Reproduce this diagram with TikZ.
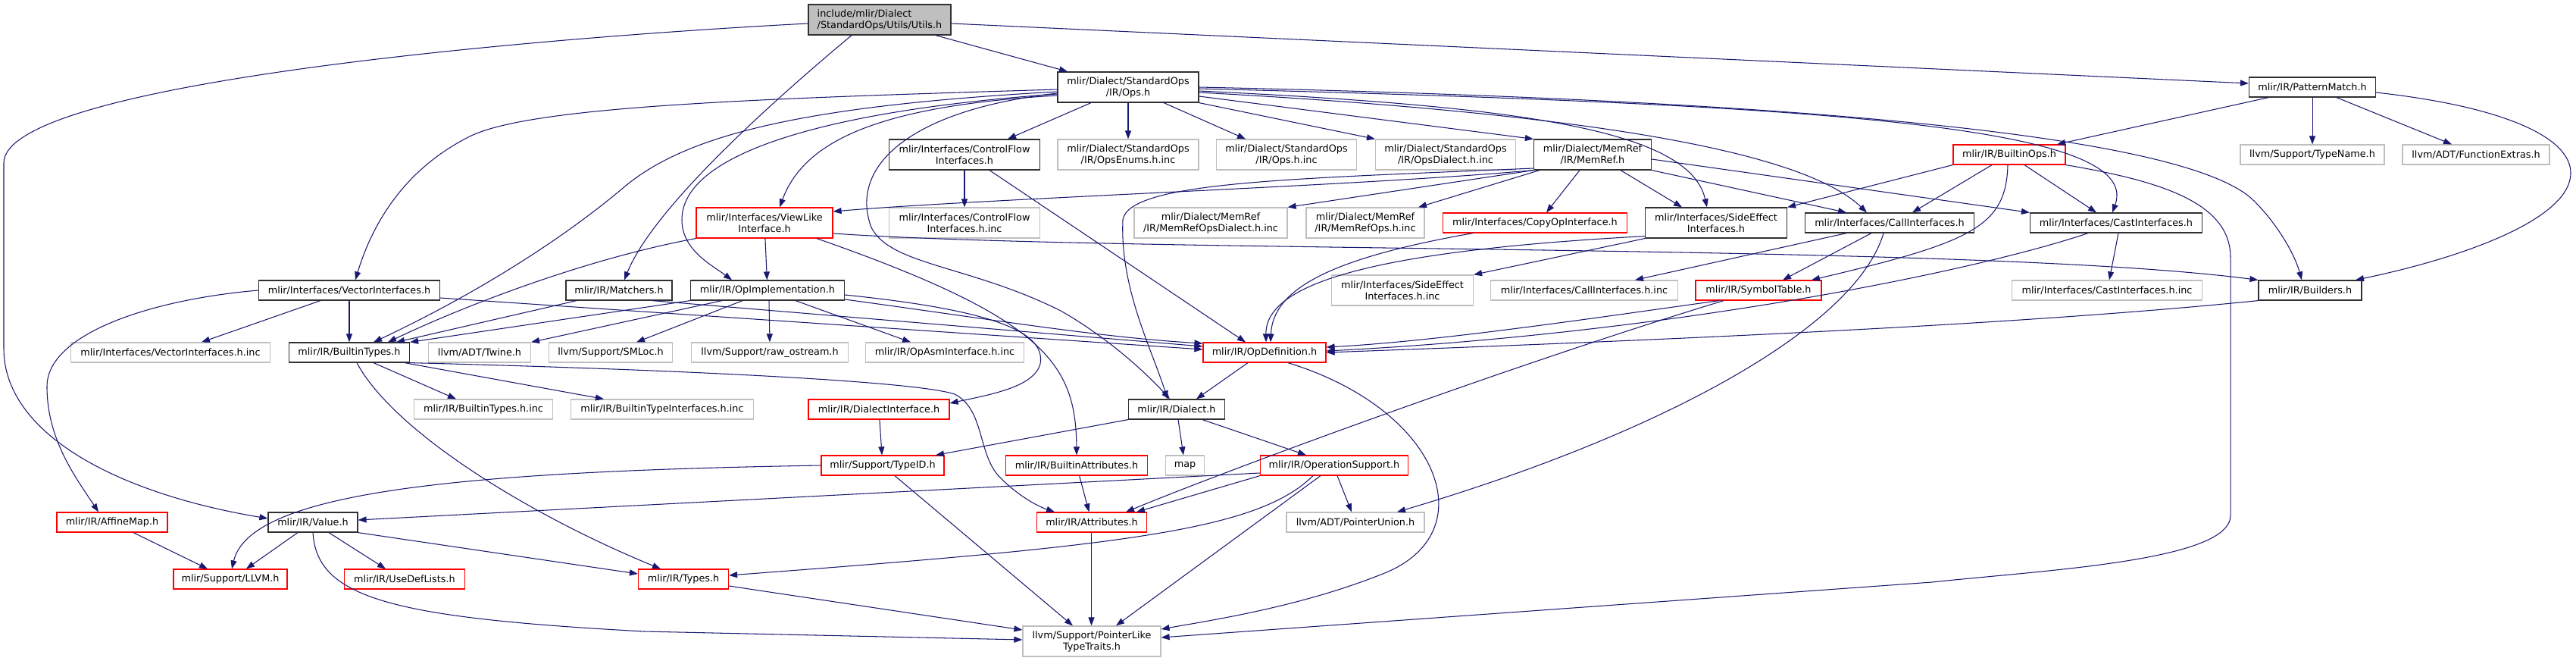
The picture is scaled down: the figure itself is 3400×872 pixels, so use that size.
\documentclass[tikz,border=0pt]{standalone}
\usepackage{fontspec}
\newfontfamily\gfont{DejaVu Sans}
\usetikzlibrary{arrows.meta}
\definecolor{edgeblue}{HTML}{191970}
\definecolor{bordergray}{HTML}{BFBFBF}
\definecolor{rootgray}{HTML}{BFBFBF}
\definecolor{borderred}{HTML}{FF0000}
\definecolor{borderblk}{HTML}{303030}
\begin{document}
\begin{tikzpicture}[x=1pt,y=-1pt,
  box/.style={rectangle, draw, fill=white, inner sep=0pt, align=center, line width=1.2pt,
     font={\gfont\fontsize{12.8pt}{15pt}\selectfont}, text=black},
  blk/.style={box, draw=borderblk},
  gry/.style={box, draw=bordergray},
  redb/.style={box, draw=borderred},
  root/.style={box, draw=borderblk, fill=rootgray},
  h1/.style={minimum height=26pt},
  h2/.style={minimum height=40pt},
  edge/.style={draw=edgeblue, line width=1.05pt, -{Triangle[length=11pt,width=8pt]}}]
\fill[white] (0,0) rectangle (3400,872);
\useasboundingbox (0,0) rectangle (3400,872);
% ---------- nodes ----------
\node[root,h2,minimum width=188pt,align=left] (utils) at (1161,26) {include/mlir/Dialect\\/StandardOps/Utils/Utils.h};
\node[blk,h2,minimum width=186pt] (ops) at (1489,115) {mlir/Dialect/StandardOps\\/IR/Ops.h};
\node[blk,h1,minimum width=167pt] (pattern) at (3052,115) {mlir/IR/PatternMatch.h};
\node[blk,h2,minimum width=199pt] (cf) at (1273,204) {mlir/Interfaces/ControlFlow\\Interfaces.h};
\node[gry,h2,minimum width=186pt] (opsenums) at (1489,204) {mlir/Dialect/StandardOps\\/IR/OpsEnums.h.inc};
\node[gry,h2,minimum width=185pt] (opsinc) at (1698,204) {mlir/Dialect/StandardOps\\/IR/Ops.h.inc};
\node[gry,h2,minimum width=185pt] (opsdialect) at (1908,204) {mlir/Dialect/StandardOps\\/IR/OpsDialect.h.inc};
\node[blk,h2,minimum width=155pt] (memref) at (2102,204) {mlir/Dialect/MemRef\\/IR/MemRef.h};
\node[redb,h1,minimum width=148pt] (builtinops) at (2652,204) {mlir/IR/BuiltinOps.h};
\node[gry,h1,minimum width=190pt] (typename) at (3052,204) {llvm/Support/TypeName.h};
\node[gry,h1,minimum width=194pt] (funcext) at (3268,204) {llvm/ADT/FunctionExtras.h};
\node[redb,h2,minimum width=180pt] (viewlike) at (1009,294) {mlir/Interfaces/ViewLike\\Interface.h};
\node[gry,h2,minimum width=199pt] (cfinc) at (1273,294) {mlir/Interfaces/ControlFlow\\Interfaces.h.inc};
\node[gry,h2,minimum width=202pt] (mrdialect) at (1598,294) {mlir/Dialect/MemRef\\/IR/MemRefOpsDialect.h.inc};
\node[gry,h2,minimum width=156pt] (mrops) at (1802,294) {mlir/Dialect/MemRef\\/IR/MemRefOps.h.inc};
\node[redb,h1,minimum width=243pt] (copyop) at (2026,294) {mlir/Interfaces/CopyOpInterface.h};
\node[blk,h2,minimum width=187pt] (sideeffect) at (2265,294) {mlir/Interfaces/SideEffect\\Interfaces.h};
\node[blk,h1,minimum width=223pt] (callif) at (2494,294) {mlir/Interfaces/CallInterfaces.h};
\node[blk,h1,minimum width=227pt] (castif) at (2793,294) {mlir/Interfaces/CastInterfaces.h};
\node[blk,h1,minimum width=239pt] (vector) at (461,383) {mlir/Interfaces/VectorInterfaces.h};
\node[blk,h1,minimum width=140pt] (matchers) at (817,383) {mlir/IR/Matchers.h};
\node[blk,h1,minimum width=203pt] (opimpl) at (1013,383) {mlir/IR/OpImplementation.h};
\node[gry,h2,minimum width=187pt] (seinc) at (1851,383) {mlir/Interfaces/SideEffect\\Interfaces.h.inc};
\node[gry,h1,minimum width=247pt] (callinc) at (2091,383) {mlir/Interfaces/CallInterfaces.h.inc};
\node[redb,h1,minimum width=166pt] (symtab) at (2321,383) {mlir/IR/SymbolTable.h};
\node[gry,h1,minimum width=251pt] (castinc) at (2781,383) {mlir/Interfaces/CastInterfaces.h.inc};
\node[blk,h1,minimum width=136pt] (builders) at (3049,383) {mlir/IR/Builders.h};
\node[gry,h1,minimum width=263pt] (vectorinc) at (225,465) {mlir/Interfaces/VectorInterfaces.h.inc};
\node[blk,h1,minimum width=159pt] (btypes) at (461,465) {mlir/IR/BuiltinTypes.h};
\node[gry,h1,minimum width=135pt] (twine) at (633,465) {llvm/ADT/Twine.h};
\node[gry,h1,minimum width=163pt] (smloc) at (806,465) {llvm/Support/SMLoc.h};
\node[gry,h1,minimum width=207pt] (rawos) at (1016,465) {llvm/Support/raw\_ostream.h};
\node[gry,h1,minimum width=209pt] (opasm) at (1247,465) {mlir/IR/OpAsmInterface.h.inc};
\node[redb,h1,minimum width=162pt] (opdef) at (1669,465) {mlir/IR/OpDefinition.h};
\node[gry,h1,minimum width=183pt] (btinc) at (638,540) {mlir/IR/BuiltinTypes.h.inc};
\node[gry,h1,minimum width=241pt] (btifinc) at (874,540) {mlir/IR/BuiltinTypeInterfaces.h.inc};
\node[redb,h1,minimum width=186pt] (dialectif) at (1160,540) {mlir/IR/DialectInterface.h};
\node[blk,h1,minimum width=127pt] (dialect) at (1553,540) {mlir/IR/Dialect.h};
\node[redb,h1,minimum width=162pt] (typeid) at (1165,614) {mlir/Support/TypeID.h};
\node[redb,h1,minimum width=187pt] (battrs) at (1421,614) {mlir/IR/BuiltinAttributes.h};
\node[gry,h1,minimum width=51pt] (map) at (1564,614) {map};
\node[redb,h1,minimum width=195pt] (opsupport) at (1761,614) {mlir/IR/OperationSupport.h};
\node[redb,h1,minimum width=146pt] (affinemap) at (148,689) {mlir/IR/AffineMap.h};
\node[blk,h1,minimum width=118pt] (value) at (413,689) {mlir/IR/Value.h};
\node[redb,h1,minimum width=145pt] (attrs) at (1441,689) {mlir/IR/Attributes.h};
\node[gry,h1,minimum width=182pt] (ptrunion) at (1789,689) {llvm/ADT/PointerUnion.h};
\node[redb,h1,minimum width=150pt] (llvm) at (304,764) {mlir/Support/LLVM.h};
\node[redb,h1,minimum width=159pt] (usedef) at (534,764) {mlir/IR/UseDefLists.h};
\node[redb,h1,minimum width=119pt] (types) at (902,764) {mlir/IR/Types.h};
\node[gry,h2,minimum width=182pt] (ptrlike) at (1441,846) {llvm/Support/PointerLike\\TypeTraits.h};
% ---------- edges ----------
% Utils.h
\draw[edge] ([xshift=74]utils.south) -- ([xshift=-80]ops.north);
\draw[edge] ([yshift=-5]utils.east) -- ([yshift=5]pattern.west);
\draw[edge] ([xshift=-37]utils.south) .. controls (1000,150) and (860,280) .. ([xshift=7]matchers.north);
\draw[edge] ([yshift=-5]utils.west) .. controls (700,50) and (5,110) .. (5,215) -- (5,460) .. controls (5,570) and (150,650) .. ([yshift=5]value.west);
% Ops.h
\draw[edge] ([yshift=-3]ops.west) .. controls (1000,130) and (700,140) .. (620,180) .. controls (530,225) and (490,300) .. ([xshift=8]vector.north);
\draw[edge] ([yshift=-6]ops.west) .. controls (1050,140) and (900,180) .. (820,250) .. controls (700,350) and (560,420) .. ([xshift=32]btypes.north);
\draw[edge] ([yshift=-11]ops.west) .. controls (1150,140) and (1060,190) .. ([xshift=20]viewlike.north);
\draw[edge] ([yshift=-9]ops.west) .. controls (1100,145) and (900,200) .. (900,290) .. controls (900,330) and (940,350) .. ([xshift=-47]opimpl.north);
\draw[edge] ([yshift=-8]ops.west) .. controls (1200,145) and (1120,220) .. (1150,300) .. controls (1175,350) and (1280,350) .. (1400,410) .. controls (1470,450) and (1520,500) .. ([xshift=-9]dialect.north);
\draw[edge] ([xshift=-49]ops.south) -- ([xshift=57]cf.north);
\draw[edge] (ops) -- (opsenums);
\draw[edge] ([xshift=47]ops.south) -- ([xshift=-54]opsinc.north);
\draw[edge] (ops.south east) -- (opsdialect.north west);
\draw[edge] ([yshift=-12]ops.east) -- (memref.north west);
\draw[edge] ([yshift=-5]ops.east) .. controls (2000,140) and (2230,170) .. ([xshift=-12]sideeffect.north);
\draw[edge] ([yshift=-7]ops.east) .. controls (2100,150) and (2380,200) .. ([xshift=-30]callif.north);
\draw[edge] ([yshift=-2]ops.east) .. controls (2400,138) and (2830,165) .. ([xshift=-5]castif.north);
\draw[edge] (ops.east) .. controls (2500,135) and (2900,190) .. (2975,265) .. controls (3010,300) and (3030,340) .. ([xshift=-11]builders.north);
% PatternMatch.h
\draw[edge] ([xshift=-58]pattern.south) -- ([xshift=63]builtinops.north);
\draw[edge] (pattern) -- (typename);
\draw[edge] ([xshift=32]pattern.south) -- ([xshift=-32]funcext.north);
\draw[edge] ([yshift=-7]pattern.east) .. controls (3300,140) and (3395,180) .. (3393,230) .. controls (3390,290) and (3250,340) .. ([xshift=60]builders.north);
% ControlFlowInterfaces.h
\draw[edge] (cf) -- (cfinc);
\draw[edge] ([xshift=33]cf.south) -- ([xshift=-25]opdef.north);
% MemRef.h
\draw[edge] (memref.south west) .. controls (1800,245) and (1300,262) .. ([yshift=15]viewlike.east);
\draw[edge] ([yshift=-18]memref.west) .. controls (1700,236) and (1490,240) .. (1482,290) .. controls (1478,380) and (1520,460) .. ([xshift=-12]dialect.north);
\draw[edge] (memref.south west) -- (mrdialect.north east);
\draw[edge] ([xshift=-70]memref.south) -- ([xshift=70]mrops.north);
\draw[edge] ([xshift=-17]memref.south) -- ([xshift=15]copyop.north);
\draw[edge] ([xshift=37]memref.south) -- ([xshift=-45]sideeffect.north);
\draw[edge] (memref.south east) -- ([xshift=-57]callif.north);
\draw[edge] ([yshift=-6]memref.east) -- (castif.north west);
% BuiltinOps.h
\draw[edge] (builtinops.south west) -- (sideeffect.north east);
\draw[edge] ([xshift=-23]builtinops.south) -- ([xshift=30]callif.north);
\draw[edge] ([xshift=20]builtinops.south) -- ([xshift=-26]castif.north);
\draw[edge] ([xshift=-2]builtinops.south) .. controls (2648,300) and (2600,320) .. ([xshift=70]symtab.north);
\draw[edge] (builtinops.south east) .. controls (2860,240) and (2944,270) .. (2944,340) -- (2944,680) .. controls (2944,740) and (2700,752) .. (2550,768) -- ([yshift=5]ptrlike.east);
% ViewLikeInterface.h
\draw[edge] (viewlike.south west) .. controls (780,340) and (620,400) .. ([xshift=51]btypes.north);
\draw[edge] (viewlike) -- (opimpl);
\draw[edge] ([xshift=69]viewlike.south) .. controls (1380,420) and (1420,480) .. (battrs.north);
\draw[edge] ([yshift=-14]viewlike.east) .. controls (1500,335) and (2600,320) .. (builders.north west);
% VectorInterfaces.h
\draw[edge] ([xshift=-38]vector.south) -- ([xshift=41]vectorinc.north);
\draw[edge] (vector) -- (btypes);
\draw[edge] (vector.west) .. controls (200,395) and (62,440) .. (62,510) .. controls (62,580) and (100,630) .. ([xshift=-18]affinemap.north);
\draw[edge] ([yshift=-10]vector.east) -- ([yshift=4]opdef.west);
% Matchers.h
\draw[edge] ([xshift=-56]matchers.south) -- ([xshift=62]btypes.north);
\draw[edge] ([xshift=44]matchers.south) -- ([yshift=8]opdef.west);
% OpImplementation.h
\draw[edge] (opimpl.south west) -- (btypes.north east);
\draw[edge] ([xshift=-60]opimpl.south) -- (twine.north east);
\draw[edge] ([xshift=-33]opimpl.south) -- ([xshift=34]smloc.north);
\draw[edge] ([xshift=2]opimpl.south) -- (rawos.north);
\draw[edge] ([xshift=37]opimpl.south) -- ([xshift=-45]opasm.north);
\draw[edge] ([yshift=-6]opimpl.east) .. controls (1320,410) and (1380,440) .. (1373,480) .. controls (1365,510) and (1310,520) .. ([yshift=8]dialectif.east);
\draw[edge] ([yshift=-12]opimpl.east) .. controls (1300,420) and (1450,445) .. ([yshift=12]opdef.west);
% interfaces
\draw[edge] ([xshift=-82]copyop.south) .. controls (1760,340) and (1680,380) .. ([xshift=8]opdef.north);
\draw[edge] (sideeffect.south west) -- (seinc.north east);
\draw[edge] ([yshift=3]sideeffect.south west) .. controls (1830,330) and (1670,370) .. ([xshift=2]opdef.north);
\draw[edge] ([xshift=-57]callif.south) -- ([xshift=67]callinc.north);
\draw[edge] ([xshift=-24]callif.south) -- ([xshift=32]symtab.north);
\draw[edge] ([xshift=-8]callif.south) .. controls (2450,430) and (2200,570) .. ([xshift=55]ptrunion.north);
\draw[edge] ([xshift=3]castif.south) -- ([xshift=3]castinc.north);
\draw[edge] ([xshift=-37]castif.south) .. controls (2600,360) and (2200,440) .. ([yshift=2]opdef.east);
\draw[edge] ([xshift=-52]symtab.south) .. controls (2100,420) and (1900,450) .. ([yshift=7]opdef.east);
\draw[edge] ([xshift=-46]symtab.south) .. controls (2000,480) and (1620,620) .. ([xshift=45]attrs.north);
\draw[edge] (builders.south west) .. controls (2700,425) and (2300,445) .. (opdef.east);
% BuiltinTypes.h
\draw[edge] ([xshift=32]btypes.south) -- ([xshift=-36]btinc.north);
\draw[edge] ([xshift=73]btypes.south) -- ([xshift=-77]btifinc.north);
\draw[edge] (btypes.south east) .. controls (800,485) and (1200,500) .. (1260,520) .. controls (1300,540) and (1290,600) .. (1320,630) .. controls (1345,655) and (1370,668) .. ([xshift=-49]attrs.north);
\draw[edge] ([xshift=10]btypes.south) .. controls (520,570) and (700,680) .. ([xshift=-30]types.north);
% OpDefinition.h
\draw[edge] ([xshift=-22]opdef.south) -- ([xshift=26]dialect.north);
\draw[edge] ([xshift=31]opdef.south) .. controls (1900,540) and (1960,700) .. (1830,755) .. controls (1720,800) and (1600,818) .. ([yshift=16]ptrlike.east);
% Dialect & co
\draw[edge] (dialectif) -- (typeid);
\draw[edge] (dialect.south west) -- ([xshift=70]typeid.north);
\draw[edge] (dialect) -- (map);
\draw[edge] ([xshift=34]dialect.south) -- ([xshift=-37]opsupport.north);
\draw[edge] (typeid.west) .. controls (600,622) and (330,650) .. ([xshift=2]llvm.north);
\draw[edge] ([xshift=16]typeid.south) -- ([xshift=-25]ptrlike.north);
\draw[edge] (battrs) -- (attrs);
% OperationSupport.h
\draw[edge] ([yshift=-10]opsupport.west) -- ([yshift=3]value.east);
\draw[edge] (opsupport.south west) -- ([xshift=59]attrs.north);
\draw[edge] ([xshift=4]opsupport.south) -- ([xshift=-5]ptrunion.north);
\draw[edge] ([xshift=-28]opsupport.south) .. controls (1660,700) and (1480,720) .. ([yshift=5]types.east);
\draw[edge] ([xshift=-18]opsupport.south) -- ([xshift=32]ptrlike.north);
\draw[edge] ([xshift=-0.5]attrs.south) -- ([xshift=-0.5]ptrlike.north);
% bottom
\draw[edge] ([xshift=28]affinemap.south) -- ([xshift=-30]llvm.north);
\draw[edge] ([xshift=-20]value.south) -- ([xshift=21]llvm.north);
\draw[edge] ([xshift=21]value.south) -- ([xshift=-25]usedef.north);
\draw[edge] (value.south east) -- ([yshift=7]types.west);
\draw[edge] (value.south) .. controls (418,790) and (520,815) .. (850,833) -- ([yshift=2]ptrlike.west);
\draw[edge] ([yshift=-9]types.east) -- ([yshift=15]ptrlike.west);
\end{tikzpicture}
\end{document}
